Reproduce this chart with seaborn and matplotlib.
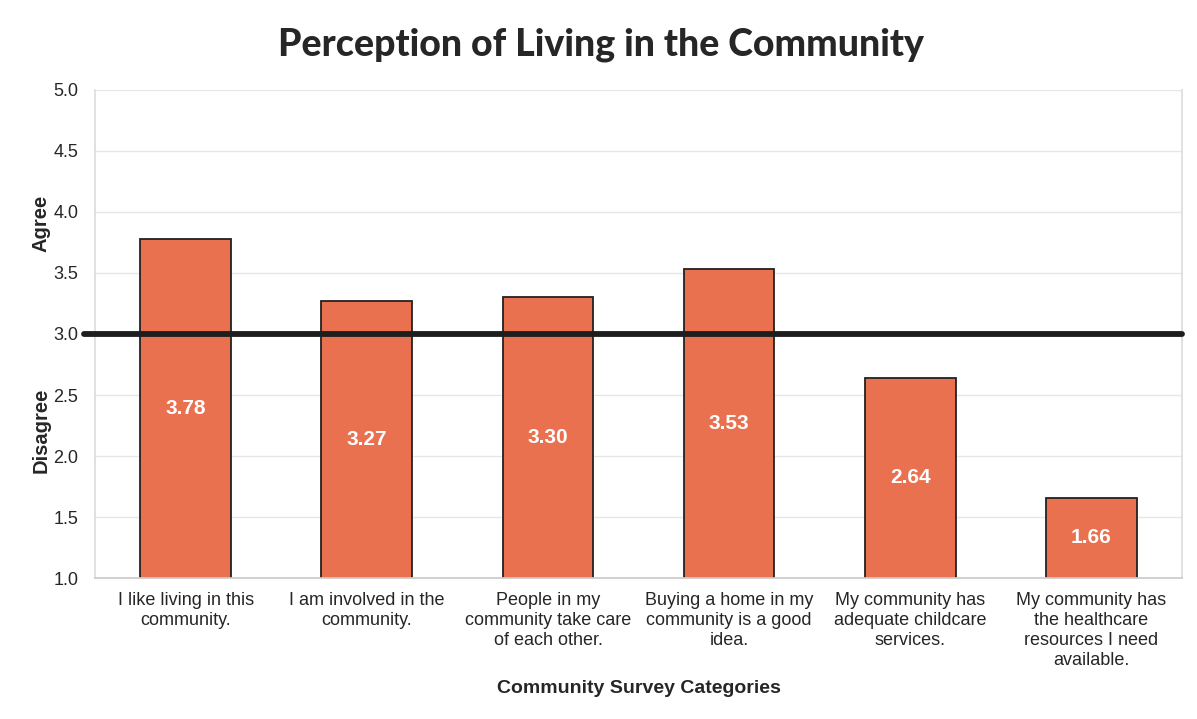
import numpy as np
import pandas as pd
import matplotlib
matplotlib.use("Agg")
import matplotlib.pyplot as plt
import seaborn as sns

# Data
categories = [
    "I like living in this\ncommunity.",
    "I am involved in the\ncommunity.",
    "People in my\ncommunity take care\nof each other.",
    "Buying a home in my\ncommunity is a good\nidea.",
    "My community has\nadequate childcare\nservices.",
    "My community has\nthe healthcare\nresources I need\navailable.",
]
scores = [3.78, 3.27, 3.30, 3.53, 2.64, 1.66]
y_ticks = [1.0, 1.5, 2.0, 2.5, 3.0, 3.5, 4.0, 4.5, 5.0]
neutral = 3.0

bar_color = "#E9714F"

sns.set_theme(style="white")
plt.rcParams['font.family'] = ['Liberation Sans', 'DejaVu Sans']

df = pd.DataFrame({"category": categories, "score": scores})

fig = plt.figure(figsize=(11.97, 7.19), dpi=100)
ax = fig.add_axes([0.0794, 0.196, 0.9081, 0.679])

sns.barplot(data=df, x="category", y="score", color=bar_color, saturation=1,
            width=0.5, edgecolor="#222222", linewidth=1.3, ax=ax, zorder=2)

ax.set_ylim(1.0, 5.0)
ax.set_xlim(-0.5, len(categories) - 0.5)
ax.set_yticks(y_ticks)
ax.set_yticklabels([f"{t:.1f}" for t in y_ticks], fontsize=13)
ax.yaxis.grid(True, color="#e6e6e6", linewidth=1, zorder=0)
ax.set_axisbelow(True)

# category boundary ticks
ax.set_xticks(np.arange(-0.5, len(categories), 1.0), minor=True)
ax.tick_params(axis="x", which="minor", length=5, color="#bbbbbb", width=1, direction="out")
ax.tick_params(axis="x", which="major", length=0, pad=10, labelsize=13)
ax.tick_params(axis="y", length=0, pad=12)
for lbl in ax.get_xticklabels():
    lbl.set_linespacing(1.22)

ax.spines["top"].set_visible(False)
ax.spines["left"].set_color("#dddddd")
ax.spines["right"].set_color("#dddddd")
ax.spines["bottom"].set_color("#cccccc")

# neutral line
ax.axhline(neutral, xmin=-0.01, xmax=1.0, color="#1e1e1e", linewidth=4.2,
           zorder=4, clip_on=False)

# value labels in the middle of each bar
for i, v in enumerate(scores):
    ax.text(i, (1.0 + v) / 2, f"{v:.2f}", ha="center", va="center",
            color="white", fontsize=15, fontweight="bold", zorder=5)

ax.set_xlabel("Community Survey Categories", fontsize=14, fontweight="bold", labelpad=8)
ax.set_ylabel("")

fig.text(0.034, 0.69, "Agree", rotation=90, ha="center", va="center",
         fontsize=14.5, fontweight="bold")
fig.text(0.034, 0.402, "Disagree", rotation=90, ha="center", va="center",
         fontsize=14.5, fontweight="bold")

fig.suptitle("Perception of Living in the Community", x=0.502, y=0.962,
             fontsize=27, fontweight="black", family=["Lato", "DejaVu Sans"])

fig.savefig("out.png", dpi=100)
